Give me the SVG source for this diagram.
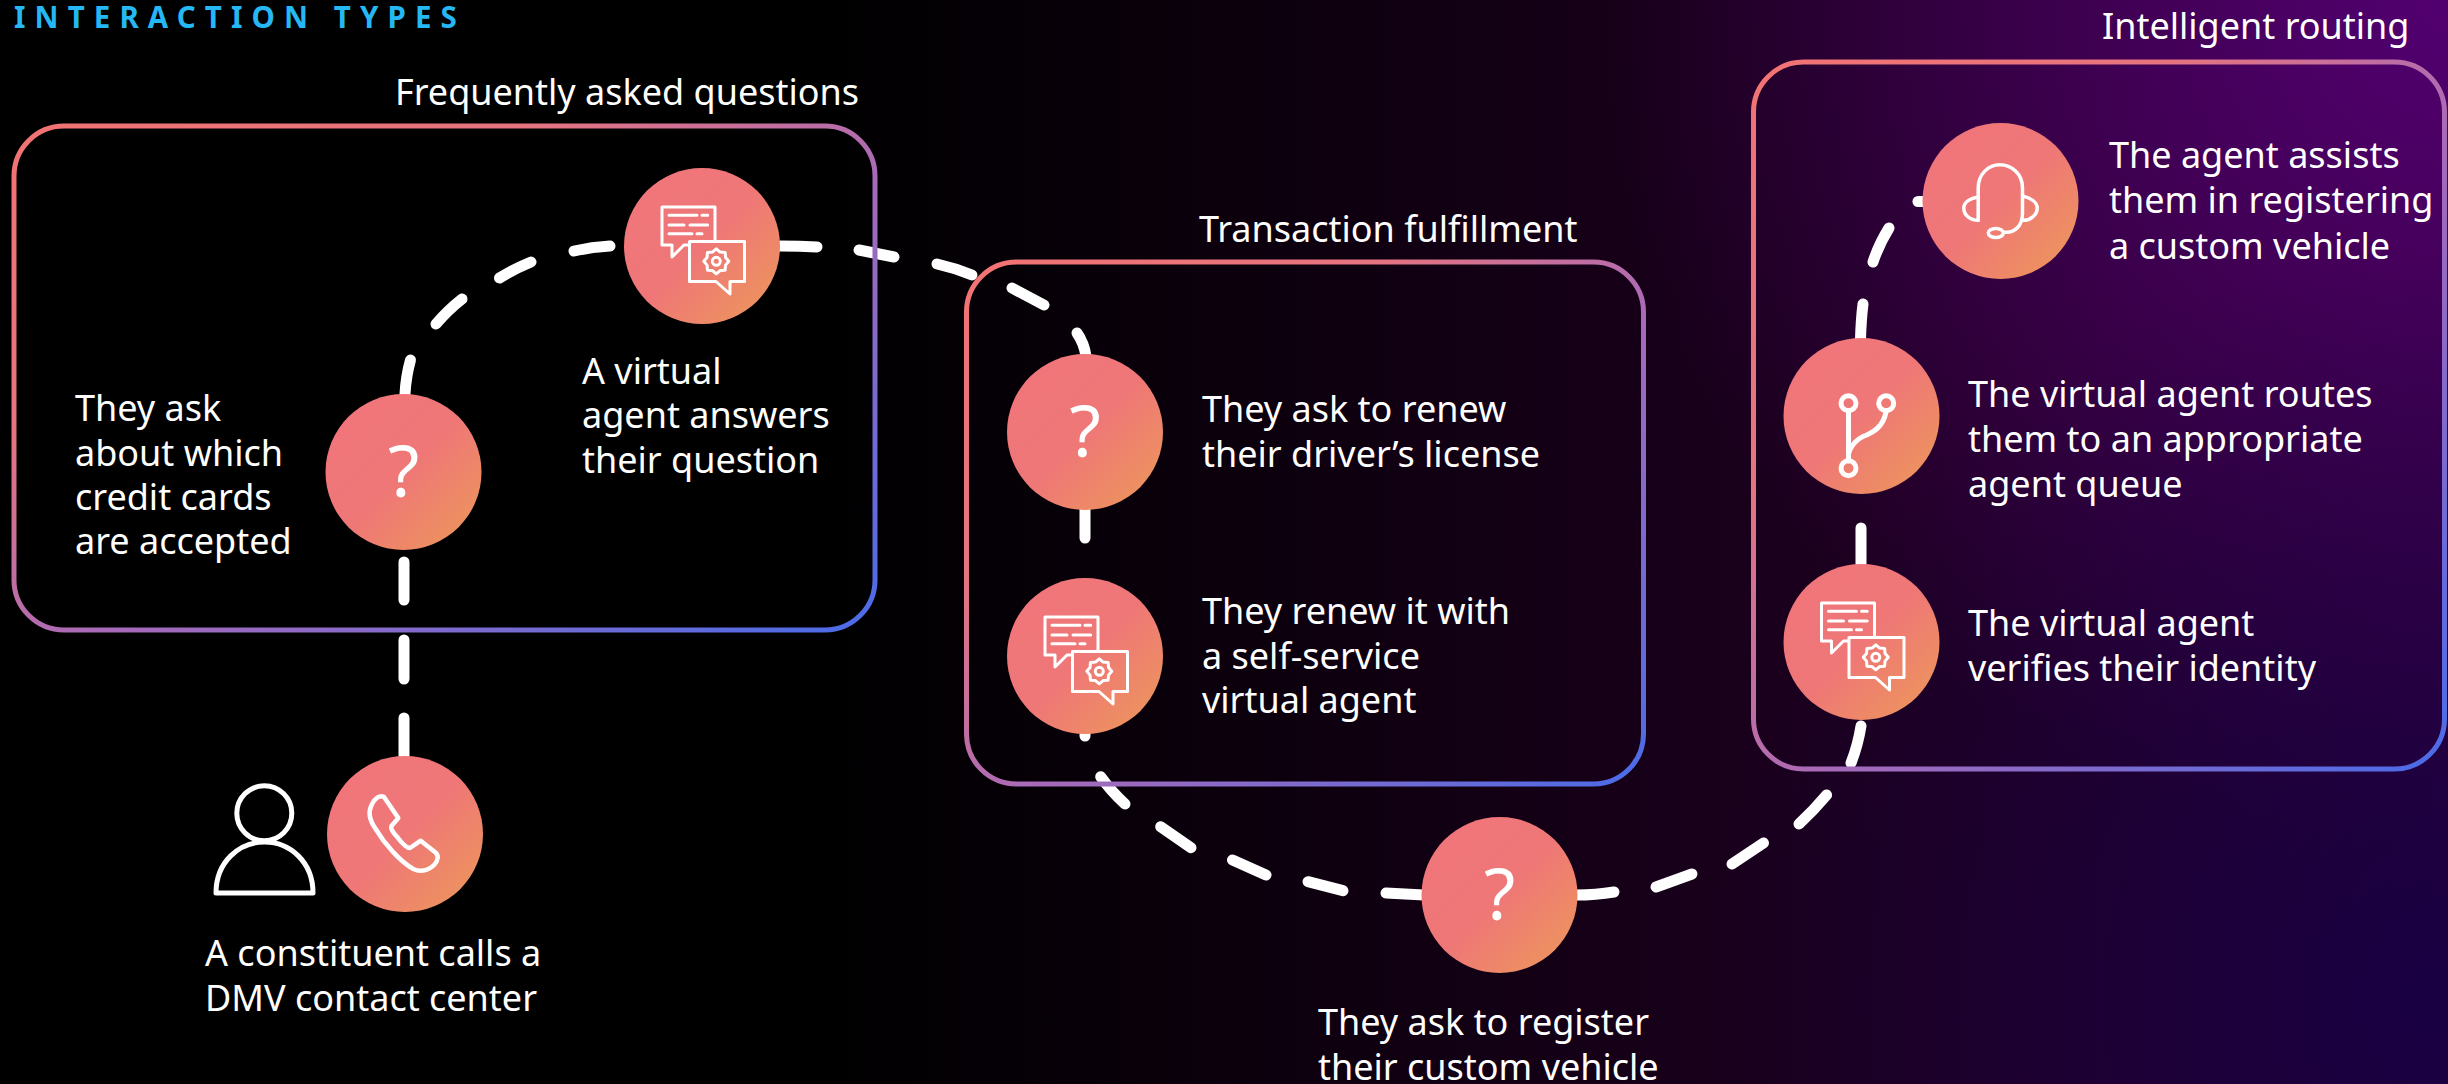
<svg xmlns="http://www.w3.org/2000/svg" width="2448" height="1084" viewBox="0 0 2448 1084">
<style>
text{font-family:"Noto Sans","Open Sans","Liberation Sans",sans-serif;font-size:36px;fill:#fff}
.title{font-size:29.500px;font-weight:700;fill:#25b8f5;letter-spacing:9.100px}
.q{font-size:72px;text-anchor:middle}
.box{fill:none;stroke-width:5}
.dash{fill:none;stroke:#fff;stroke-width:11;stroke-linecap:round}
.ic{fill:none;stroke:#fff;stroke-width:3;stroke-linecap:round;stroke-linejoin:round}
</style>
<defs>
<linearGradient id="bgH" gradientUnits="userSpaceOnUse" x1="800" y1="600" x2="2448" y2="600"><stop offset="0" stop-color="#000"/><stop offset="1" stop-color="#2c0030"/></linearGradient>
<radialGradient id="bgT" gradientUnits="userSpaceOnUse" cx="2448" cy="0" r="850"><stop offset="0" stop-color="#520070"/><stop offset="1" stop-color="#520070" stop-opacity="0"/></radialGradient>
<radialGradient id="bgB" gradientUnits="userSpaceOnUse" cx="2448" cy="1000" r="750"><stop offset="0" stop-color="#140048" stop-opacity=".8"/><stop offset="1" stop-color="#140048" stop-opacity="0"/></radialGradient>
<linearGradient id="cg" x1="0" y1="0" x2="1" y2="1"><stop offset="0" stop-color="#f0757c"/><stop offset=".5" stop-color="#ef7777"/><stop offset="1" stop-color="#ec9a58"/></linearGradient>
<linearGradient id="bd" x1="0" y1="0" x2="1" y2="1"><stop offset="0" stop-color="#f27373"/><stop offset=".3" stop-color="#e67480"/><stop offset=".55" stop-color="#a86ab8"/><stop offset="1" stop-color="#4a6be8"/></linearGradient>
<circle id="c" r="78" fill="url(#cg)"/>
<g id="chat" class="ic">
<path d="M13-6V-39H-40V-1H-30V11L-18-1H-13"/>
<path d="M-12.500-4.500H42.500V35.500H28V48L14 35.500H-12.500Z"/>
<path d="M-33-30.700H-5M0-30.700H5.700M-33-21H-18M-12-21H5.700M-33-12.300H-10M-5-12.300H0"/>
<polygon transform="translate(14.300 15.300)" points="12.500,0 9.240,3.830 8.840,8.840 3.830,9.240 0,12.500 -3.830,9.240 -8.840,8.840 -9.240,3.830 -12.500,0 -9.240,-3.830 -8.840,-8.840 -3.830,-9.240 0,-12.500 3.830,-9.240 8.840,-8.840 9.240,-3.830"/>
<circle cx="14.300" cy="15.300" r="4"/>
</g>
</defs>
<rect width="2448" height="1084" fill="#000"/>
<rect width="2448" height="1084" fill="url(#bgH)"/>
<rect width="2448" height="1084" fill="url(#bgT)"/>
<rect width="2448" height="1084" fill="url(#bgB)"/>

<g id="connectors" class="dash">
<path d="M404 718V756"/><path d="M404 640V679"/><path d="M404 562V600"/>
<path d="M405 394Q406 376 410.500 360"/><path d="M436 324Q448 310 462 299"/><path d="M499.500 278Q514 269 531 262"/><path d="M574 251Q592 247 610 246"/>
<path d="M780 246Q800 246 817 247"/><path d="M859 250L894 257"/><path d="M937 264Q955 268 972 275"/><path d="M1012 288L1044 305"/><path d="M1077 333Q1084 343 1086 356"/>
<path d="M1085 500V538"/><path d="M1085 730V736"/>
<path d="M1100.700 776.700Q1111 791 1125 804"/><path d="M1160.700 826.700L1191 847.700"/><path d="M1232.500 860L1266 875"/><path d="M1308 881.700L1343 890.700"/><path d="M1386 893L1424 895"/>
<path d="M1576 895Q1596 895 1614 892"/><path d="M1656 887L1692 874"/><path d="M1732 864L1763.500 843"/><path d="M1799 824Q1814 810 1826.600 795" /><path d="M1851 763Q1858 745 1861 726"/>
<path d="M1861 528V566"/><path d="M1863 304Q1861 320 1860.500 340"/><path d="M1889 228Q1879 244 1873 262"/><path d="M1918 201.500H1926"/>
</g>

<g id="faq"><rect class="box" x="14" y="126" width="861" height="504" rx="50" stroke="url(#bd)"/>
<text x="395" y="105">Frequently asked questions</text></g>
<g id="transaction"><rect class="box" x="966.500" y="262" width="677" height="522" rx="50" stroke="url(#bd)"/>
<text x="1199" y="242">Transaction fulfillment</text></g>
<g id="routing"><rect class="box" x="1753.500" y="62" width="691" height="707" rx="50" stroke="url(#bd)"/>
<text x="2102" y="39">Intelligent routing</text></g>

<text id="title" class="title" x="14" y="28">INTERACTION TYPES</text>

<g id="n-caller">
<circle cx="264.300" cy="813.300" r="27.500" fill="none" stroke="#fff" stroke-width="5"/>
<path d="M216 893H313C313 862 290 842 264.500 842C239 842 216 862 216 893Z" fill="none" stroke="#fff" stroke-width="5" stroke-linejoin="round"/>
<use href="#c" x="405" y="834"/>
<path transform="translate(405 834)" d="M-33.300-29.300C-36.700-22.700-35.700-14.300-30-6C-20 10.700-5 27.300 8.300 35C16.700 39 26.700 35.700 31.700 27.300C34.300 22.300 31.700 19 28.300 16.700L15.700 6.700L5 14C1.700 14-3.300 9-8.300 2.300C-11.700-1-15-6-13.300-8.300L-6.700-16L-21-37C-25-39.300-30-36-33.300-29.300Z" fill="none" stroke="#fff" stroke-width="4.500" stroke-linejoin="round"/>
<text x="205" y="966">A constituent calls a</text><text x="205" y="1011">DMV contact center</text>
</g>
<g id="n-ask1"><use href="#c" x="403.500" y="472"/><text class="q" x="403.500" y="497">?</text>
<text x="75" y="421">They ask</text><text x="75" y="466">about which</text><text x="75" y="510">credit cards</text><text x="75" y="554">are accepted</text></g>
<g id="n-answer"><use href="#c" x="702" y="246"/><use href="#chat" x="702" y="246"/>
<text x="582" y="383.500">A virtual</text><text x="582" y="428">agent answers</text><text x="582" y="472.500">their question</text></g>
<g id="n-ask2"><use href="#c" x="1085" y="432"/><text class="q" x="1085" y="457">?</text>
<text x="1202" y="422">They ask to renew</text><text x="1202" y="467">their driver’s license</text></g>
<g id="n-renew"><use href="#c" x="1085" y="656"/><use href="#chat" x="1085" y="656"/>
<text x="1202" y="624">They renew it with</text><text x="1202" y="669">a self-service</text><text x="1202" y="713">virtual agent</text></g>
<g id="n-ask3"><use href="#c" x="1499.500" y="895"/><text class="q" x="1499.500" y="920">?</text>
<text x="1318" y="1035">They ask to register</text><text x="1318" y="1080">their custom vehicle</text></g>
<g id="n-verify"><use href="#c" x="1861.500" y="642"/><use href="#chat" x="1861.500" y="642"/>
<text x="1968" y="636">The virtual agent</text><text x="1968" y="681">verifies their identity</text></g>
<g id="n-route"><use href="#c" x="1861.500" y="416"/>
<g transform="translate(1861.500 416)" fill="none" stroke="#fff" stroke-width="5" stroke-linecap="round">
<circle cx="-13" cy="-12.700" r="7.500"/><circle cx="24.700" cy="-12.700" r="7.500"/><circle cx="-13" cy="52.300" r="7.500"/>
<path d="M-13-5V45M24.700-5C22 10.700 12 15.700 5.300 19C-4.700 22.300-12 30.700-13 39"/></g>
<text x="1968" y="406.500">The virtual agent routes</text><text x="1968" y="451.500">them to an appropriate</text><text x="1968" y="496.500">agent queue</text></g>
<g id="n-agent"><use href="#c" x="2000.500" y="201"/>
<g transform="translate(2000.500 201)" fill="none" stroke="#fff" stroke-width="3.500" stroke-linecap="round" stroke-linejoin="round">
<path d="M-22.300 19.300V-13C-22.300-27-12-36.300-.7-36.300C11-36.300 22-27 22-13V12C22 25 14.300 31.300 6 31.300H3.300"/>
<path d="M-22.300-4C-30-3-36.700 1-36.700 7C-36.700 14-30.700 19.300-22.300 19.300"/>
<path d="M22.700-4.700C30-3 36.700 1 36.700 7C36.700 14 30 19.300 22.700 19.300"/>
<ellipse cx="-4.700" cy="32" rx="7.500" ry="4.500"/></g>
<text x="2109" y="168">The agent assists</text><text x="2109" y="213">them in registering</text><text x="2109" y="258.500">a custom vehicle</text></g>
</svg>
